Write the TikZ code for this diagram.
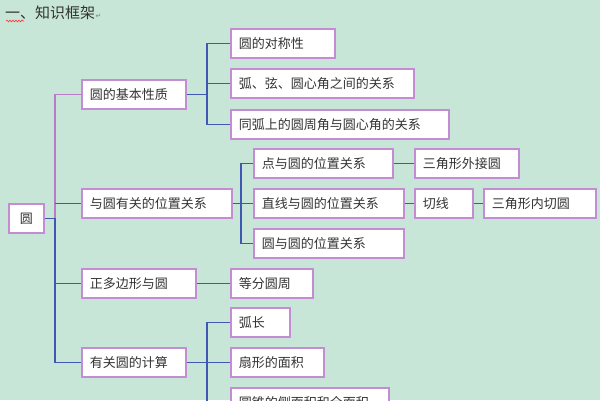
\documentclass[tikz,border=0pt]{standalone}
\usepackage{fontspec}
\setmainfont{Noto Sans CJK SC}
\newfontfamily\symfont{DejaVu Sans}
\usetikzlibrary{shadows,decorations.pathmorphing}
\definecolor{bgc}{HTML}{C8E6D8}
\definecolor{boxc}{HTML}{C48CD2}
\definecolor{linb}{HTML}{3F58B4}
\definecolor{linp}{HTML}{B87CC8}
\definecolor{txt}{HTML}{333333}
\tikzset{
  box/.style={draw=boxc, line width=1.8pt, fill=white, inner xsep=8pt, inner ysep=0pt,
    minimum height=29pt, align=left, anchor=north west, text=txt, font=\fontsize{13}{15}\selectfont,
    drop shadow={shadow xshift=1pt, shadow yshift=-1.2pt, fill=black!25, opacity=.5}},
  cb/.style={draw=linb, line width=1.5pt},
  cp/.style={draw=linp, line width=1.5pt}
}
\begin{document}
\begin{tikzpicture}[x=1pt,y=-1pt]
\fill[bgc] (0,0) rectangle (600,400);
\useasboundingbox (0,0) rectangle (600,400);
\clip (0,0) rectangle (600,400);
% title
\node[anchor=base west, inner sep=0pt, text=txt, font=\fontsize{15}{17}\selectfont] (title) at (5,18) {一、知识框架};
\node[anchor=base west, inner sep=0pt, text=black!50, font=\symfont\fontsize{7}{8}\selectfont] (pm) at (title.base east) {↵};
\draw[red!80, line width=.6pt, decorate, decoration={snake, amplitude=.9pt, segment length=3pt}] (6,21) -- (24,21);
% level 0
\node[box, text width=19pt, align=center] (A) at (8,203) {圆};
% level 1
\node[box, text width=88pt] (B1) at (81,79) {圆的基本性质};
\node[box, text width=134pt] (B2) at (81,188) {与圆有关的位置关系};
\node[box, text width=98pt] (B3) at (81,268) {正多边形与圆};
\node[box, text width=88pt] (B4) at (81,347) {有关圆的计算};
% level 2
\node[box, text width=88pt] (C1) at (230,28) {圆的对称性};
\node[box, text width=167pt] (C2) at (230,68) {弧、弦、圆心角之间的关系};
\node[box, text width=202pt] (C3) at (230,109) {同弧上的圆周角与圆心角的关系};
\node[box, text width=123pt] (D1) at (253,148) {点与圆的位置关系};
\node[box, text width=134pt] (D2) at (253,188) {直线与圆的位置关系};
\node[box, text width=134pt] (D3) at (253,228) {圆与圆的位置关系};
\node[box, text width=88pt] (E1) at (414,148) {三角形外接圆};
\node[box, text width=42pt] (E2) at (414,188) {切线};
\node[box, text width=96pt] (E3) at (483,188) {三角形内切圆};
\node[box, text width=66pt] (F1) at (230,268) {等分圆周};
\node[box, text width=43pt] (G1) at (230,307) {弧长};
\node[box, text width=77pt] (G2) at (230,347) {扇形的面积};
\node[box, text width=142pt] (G3) at (230,387) {圆锥的侧面积和全面积};
% bracket coordinates
\coordinate (t) at (55,0);
\coordinate (c) at (207,0);
\coordinate (d) at (241,0);
% trunk
\draw[cb] (A.east) -- (A.east -| t);
\draw[cp] (B1.west) -| (t |- A.east);
\draw[cb] (t |- A.east) |- (B4.west);
\draw[cb] (B2.west) -- (B2.west -| t);
\draw[cb] (B3.west) -- (B3.west -| t);
% B1 children
\draw[cb] (B1.east) -- (B1.east -| c);
\draw[cb] (C1.west) -| (c |- C3.west) -- (C3.west);
\draw[cb] (C2.west) -- (C2.west -| c);
% B2 children
\draw[cb] (B2.east) -- (D2.west);
\draw[cb] (D1.west) -| (d |- D3.west) -- (D3.west);
\draw[cb] (D1.east) -- (E1.west);
\draw[cb] (D2.east) -- (E2.west);
\draw[cb] (E2.east) -- (E3.west);
% B3 child
\draw[cb] (B3.east) -- (F1.west);
% B4 children
\draw[cb] (B4.east) -- (B4.east -| c);
\draw[cb] (G1.west) -| (c |- G3.west) -- (G3.west);
\draw[cb] (G2.west) -- (G2.west -| c);
\end{tikzpicture}
\end{document}
